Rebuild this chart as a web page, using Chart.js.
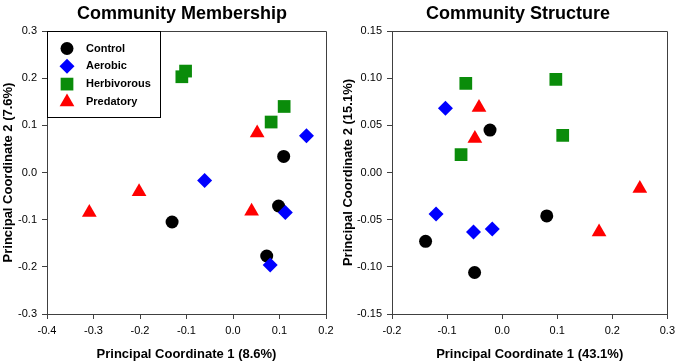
<!DOCTYPE html>
<html lang="en">
<head>
  <meta charset="UTF-8" />
  <title>Community Membership / Structure PCoA</title>
  <script src="https://cdn.jsdelivr.net/npm/chart.js"></script>
  <style>
    body {
      margin: 0;
      background: #fff;
      overflow: hidden;
      font-family: 'Liberation Sans', Arial, sans-serif;
    }
    .wrap {
      position: relative;
      width: 680px;
      height: 364px;
    }
    .panel {
      position: absolute;
      top: 0;
      width: 340px;
      height: 364px;
    }
    .ttl {
      position: absolute;
      top: 2px;
      width: 300px;
      text-align: center;
      font-weight: bold;
      font-size: 18px;
      line-height: 22px;
      color: #000;
    }
  </style>
</head>
<body>
  <div class="wrap">
    <div class="panel" style="left:0"><canvas id="chart-membership" width="340" height="364"></canvas></div>
    <div class="panel" style="left:340px"><canvas id="chart-structure" width="340" height="364"></canvas></div>
    <div class="ttl" style="left:32px">Community Membership</div>
    <div class="ttl" style="left:368px">Community Structure</div>
  </div>

  <script>
    const groups = ['Control', 'Aerobic', 'Herbivorous', 'Predatory'];

    // Community Membership (PCoA 1 vs 2)
    const memControlX = [0.109, 0.098, -0.131, 0.0725];
    const memControlY = [0.034, -0.071, -0.105, -0.177];
    const memAerobicX = [0.158, -0.061, 0.1125, 0.080];
    const memAerobicY = [0.078, -0.017, -0.085, -0.196];
    const memHerbX = [-0.110, -0.102, 0.110, 0.082];
    const memHerbY = [0.203, 0.215, 0.140, 0.107];
    const memPredX = [0.052, -0.309, -0.202, 0.040];
    const memPredY = [0.084, -0.085, -0.041, -0.082];

    // Community Structure (PCoA 1 vs 2)
    const strControlX = [-0.022, 0.081, -0.139, -0.050];
    const strControlY = [0.045, -0.046, -0.073, -0.106];
    const strAerobicX = [-0.103, -0.120, -0.052, -0.018];
    const strAerobicY = [0.068, -0.044, -0.063, -0.060];
    const strHerbX = [-0.066, 0.0975, 0.110, -0.0746];
    const strHerbY = [0.0945, 0.0988, 0.0394, 0.019];
    const strPredX = [-0.042, -0.0495, 0.250, 0.176];
    const strPredY = [0.069, 0.036, -0.017, -0.063];

    const memXTicks = ['-0.4', '-0.3', '-0.2', '-0.1', '0.0', '0.1', '0.2'];
    const memYTicks = ['-0.3', '-0.2', '-0.1', '0.0', '0.1', '0.2', '0.3'];
    const strXTicks = ['-0.2', '-0.1', '0.0', '0.1', '0.2', '0.3'];
    const strYTicks = ['-0.15', '-0.10', '-0.05', '0.00', '0.05', '0.10', '0.15'];

    Chart.defaults.font.family = "'Liberation Sans', Arial, sans-serif";
    Chart.defaults.color = '#000';

    const styles = [
      { pointStyle: 'circle', radius: 6.5, color: '#000000', order: 4 },
      { pointStyle: 'rectRot', radius: 7.5, color: '#0000ff', order: 3 },
      { pointStyle: 'rect', radius: 9, color: '#0a8c0a', order: 2 },
      { pointStyle: 'triangle', radius: 8.5, color: '#ff0000', order: 1 }
    ];

    function toPoints(xs, ys) {
      return xs.map((x, i) => ({ x, y: ys[i] }));
    }

    function makeDatasets(series) {
      return series.map(([xs, ys], i) => ({
        label: groups[i],
        data: toPoints(xs, ys),
        pointStyle: styles[i].pointStyle,
        pointRadius: styles[i].radius,
        backgroundColor: styles[i].color,
        borderColor: styles[i].color,
        borderWidth: 0,
        order: styles[i].order
      }));
    }

    // top and right sides of the frame
    const framePlugin = {
      id: 'frame',
      beforeDatasetsDraw(chart) {
        const { ctx, chartArea: a } = chart;
        const l = Math.round(a.left) + 0.5, r = Math.round(a.right) + 0.5;
        const t = Math.round(a.top) + 0.5, b = Math.round(a.bottom) + 0.5;
        ctx.save();
        ctx.strokeStyle = '#404040';
        ctx.lineWidth = 1;
        ctx.beginPath();
        ctx.moveTo(l, t);
        ctx.lineTo(r, t);
        ctx.lineTo(r, b);
        ctx.stroke();
        ctx.restore();
      }
    };

    // boxed legend in the top-left corner of the plot area
    const boxLegend = {
      id: 'boxLegend',
      afterDatasetsDraw(chart) {
        const { ctx, chartArea: a } = chart;
        const x0 = Math.round(a.left) + 0.5, y0 = Math.round(a.top) + 0.5;
        ctx.save();
        ctx.fillStyle = '#fff';
        ctx.fillRect(x0, y0, 113, 86);
        ctx.strokeStyle = '#000';
        ctx.lineWidth = 1;
        ctx.strokeRect(x0, y0, 113, 86);
        ctx.font = "bold 11px 'Liberation Sans', Arial, sans-serif";
        ctx.textBaseline = 'middle';
        ctx.textAlign = 'left';
        chart.data.datasets.forEach((ds, i) => {
          const y = a.top + 17.5 + i * 17.8;
          ctx.fillStyle = ds.backgroundColor;
          ctx.strokeStyle = ds.borderColor;
          Chart.helpers.drawPoint(ctx, {
            pointStyle: ds.pointStyle, radius: ds.pointRadius, rotation: 0, borderWidth: 0
          }, a.left + 20, y);
          ctx.fillStyle = '#000';
          ctx.fillText(ds.label, a.left + 39, y);
        });
        ctx.restore();
      }
    };

    function makeChart(id, datasets, cfg) {
      const axisCommon = {
        type: 'linear',
        grid: { drawOnChartArea: false, drawTicks: true, tickLength: 5, color: '#404040', lineWidth: 1 },
        border: { display: true, color: '#404040', width: 1 }
      };
      return new Chart(document.getElementById(id).getContext('2d'), {
        type: 'scatter',
        data: { datasets },
        options: {
          responsive: false,
          animation: false,
          layout: { padding: { top: 31, right: cfg.padRight, left: 0, bottom: 0 } },
          plugins: {
            legend: { display: false },
            tooltip: { enabled: false }
          },
          scales: {
            x: Object.assign({}, axisCommon, {
              min: cfg.xMin, max: cfg.xMax,
              ticks: {
                stepSize: cfg.xStep, padding: 5, maxRotation: 0, autoSkip: false,
                font: { size: 11 },
                callback: (v, i) => cfg.xTicks[i]
              },
              title: {
                display: true, text: cfg.xTitle,
                font: { size: 13, weight: 'bold', lineHeight: 1.2 },
                padding: { top: 0, bottom: 2 }
              },
              afterFit: s => { s.height = 50; }
            }),
            y: Object.assign({}, axisCommon, {
              min: cfg.yMin, max: cfg.yMax,
              ticks: {
                stepSize: cfg.yStep, padding: 5, autoSkip: false,
                font: { size: 11 },
                callback: (v, i) => cfg.yTicks[i]
              },
              title: {
                display: true, text: cfg.yTitle,
                font: { size: 13, weight: 'bold', lineHeight: 1.2 },
                padding: { top: 1, bottom: 0 }
              },
              afterFit: s => { s.width = cfg.yWidth; }
            })
          }
        },
        plugins: cfg.legend ? [framePlugin, boxLegend] : [framePlugin]
      });
    }

    makeChart('chart-membership', makeDatasets([
      [memControlX, memControlY],
      [memAerobicX, memAerobicY],
      [memHerbX, memHerbY],
      [memPredX, memPredY]
    ]), {
      xMin: -0.4, xMax: 0.2, xStep: 0.1, xTicks: memXTicks,
      yMin: -0.3, yMax: 0.3, yStep: 0.1, yTicks: memYTicks,
      xTitle: 'Principal Coordinate 1 (8.6%)',
      yTitle: 'Principal Coordinate 2 (7.6%)',
      yWidth: 47, padRight: 14, legend: true
    });

    makeChart('chart-structure', makeDatasets([
      [strControlX, strControlY],
      [strAerobicX, strAerobicY],
      [strHerbX, strHerbY],
      [strPredX, strPredY]
    ]), {
      xMin: -0.2, xMax: 0.3, xStep: 0.1, xTicks: strXTicks,
      yMin: -0.15, yMax: 0.15, yStep: 0.05, yTicks: strYTicks,
      xTitle: 'Principal Coordinate 1 (43.1%)',
      yTitle: 'Principal Coordinate 2 (15.1%)',
      yWidth: 52, padRight: 9, legend: false
    });
  </script>
</body>
</html>
